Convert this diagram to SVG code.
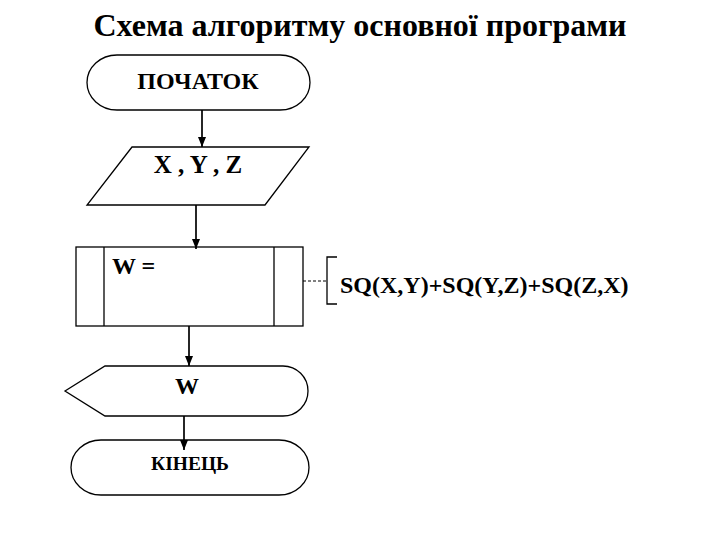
<svg xmlns="http://www.w3.org/2000/svg" width="720" height="540" viewBox="0 0 720 540">
<defs>
<style>
.s{fill:#fff;stroke:#000;stroke-width:1.3}
.t{font-weight:bold;fill:#000}
.c{stroke:#000;stroke-width:1.7;fill:none}
</style>
<marker id="ah" viewBox="0 0 10 10" refX="10" refY="5" markerWidth="10" markerHeight="10" markerUnits="userSpaceOnUse" orient="auto">
<path d="M0,1 L10,5 L0,9 Z" fill="#000"/>
</marker>
</defs>
<rect width="720" height="540" fill="#fff"/>
<g font-family="Liberation Serif, Times New Roman, serif">
<text class="t" x="360" y="36" font-size="32" text-anchor="middle">Схема алгоритму основної програми</text>
<g id="start">
<rect class="s" x="87" y="55" width="223" height="55" rx="30" ry="27.5"/>
<text class="t" x="198" y="89" font-size="24" text-anchor="middle">ПОЧАТОК</text>
</g>
<g id="input">
<polygon class="s" points="132,147 309,147 265,205 87,205"/>
<text class="t" x="198" y="173" font-size="25" text-anchor="middle">X , Y , Z</text>
</g>
<g id="process">
<rect class="s" x="76" y="247" width="227" height="79"/>
<line class="s" x1="104" y1="247" x2="104" y2="326"/>
<line class="s" x1="274" y1="247" x2="274" y2="326"/>
<text class="t" x="112" y="274" font-size="24">W =</text>
</g>
<g id="comment">
<path d="M337,257 H327 V304 H337" fill="none" stroke="#000" stroke-width="1.3"/>
<text class="t" x="340" y="293" font-size="24">SQ(X,Y)+SQ(Y,Z)+SQ(Z,X)</text>
</g>
<g id="output">
<path class="s" d="M65,391 L105,366 H283 A25,25 0 0 1 283,416 H105 Z"/>
<text class="t" x="187" y="394" font-size="24" text-anchor="middle">W</text>
</g>
<g id="end">
<rect class="s" x="71" y="440" width="238" height="55" rx="30" ry="27.5"/>
<text class="t" x="190" y="470" font-size="19.5" text-anchor="middle">КІНЕЦЬ</text>
</g>
</g>
<g id="connectors">
<line class="c" x1="202" y1="110" x2="202" y2="147" marker-end="url(#ah)"/>
<line class="c" x1="196" y1="205" x2="196" y2="249" marker-end="url(#ah)"/>
<line class="c" x1="189" y1="326" x2="189" y2="366" marker-end="url(#ah)"/>
<line class="c" x1="184" y1="416" x2="184" y2="450" marker-end="url(#ah)"/>
<line x1="303" y1="281" x2="327" y2="281" stroke="#000" stroke-width="1" stroke-dasharray="3,2"/>
</g>
</svg>
